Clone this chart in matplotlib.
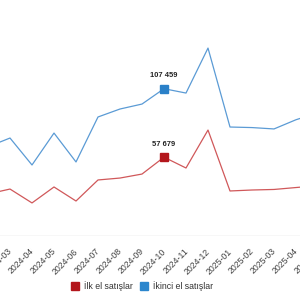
import matplotlib
matplotlib.use("Agg")
import matplotlib.pyplot as plt
from matplotlib.lines import Line2D

plt.rcParams["font.family"] = ["Liberation Sans", "DejaVu Sans"]

months = ["2024-02", "2024-03", "2024-04", "2024-05", "2024-06", "2024-07",
          "2024-08", "2024-09", "2024-10", "2024-11", "2024-12", "2025-01",
          "2025-02", "2025-03", "2025-04", "2025-05"]
first_hand = [30900, 34500, 24400, 36000, 25800, 41100, 42500, 45400, 57679,
              49800, 77400, 33100, 33800, 34200, 35600, 37000]
second_hand = [65200, 71600, 52000, 75200, 54200, 86900, 92700, 96300, 107459,
               104300, 137000, 79600, 79200, 78200, 84900, 90000]
highlight = "2024-10"

red_line, red_mark = "#d0585a", "#b3161c"
blue_line, blue_mark = "#5b9bd5", "#2a80c8"

fig = plt.figure(figsize=(3, 3), dpi=100)
ax = fig.add_axes([0, 0.2117, 1, 0.755])

x = list(range(len(months)))
ax.plot(x, second_hand, color=blue_line, lw=0.9)
ax.plot(x, first_hand, color=red_line, lw=0.9)

h = months.index(highlight)
for vals, col in [(second_hand, blue_mark), (first_hand, red_mark)]:
    ax.plot(h, vals[h], "s", color=col, ms=5.8, zorder=3)
    ax.annotate(f"{vals[h]:,}".replace(",", " "), (h, vals[h]),
                xytext=(0, 13), textcoords="offset pixels", ha="center",
                va="center", fontsize=5.4, fontweight="bold", color="#222222")

ax.set_xlim(1 - 10 / 22, 1 + 290 / 22)
ax.set_ylim(0, 164700)
for s in ax.spines.values():
    s.set_visible(False)
ax.axhline(0, color="#d9d9d9", lw=1)
ax.set_xticks([])
ax.set_yticks([])

for i, m in enumerate(months):
    ax.annotate(m, (i, 0), xycoords=("data", "axes fraction"),
                xytext=(1, -13.5), textcoords="offset pixels", ha="right",
                va="center", rotation=45, rotation_mode="anchor",
                fontsize=6.3, color="#404040", annotation_clip=False)

handles = [Line2D([], [], ls="", marker="s", ms=5.8, color=red_mark),
           Line2D([], [], ls="", marker="s", ms=5.8, color="#2b86cd")]
fig.legend(handles, ["İlk el satışlar", "İkinci el satışlar"], loc="center",
           bbox_to_anchor=(142 / 300, 1 - 286 / 300), ncol=2, frameon=False,
           fontsize=6.3, handlelength=0.9, handletextpad=0.55,
           columnspacing=0.85, labelcolor="#333333")

fig.savefig("out.png", dpi=100)
